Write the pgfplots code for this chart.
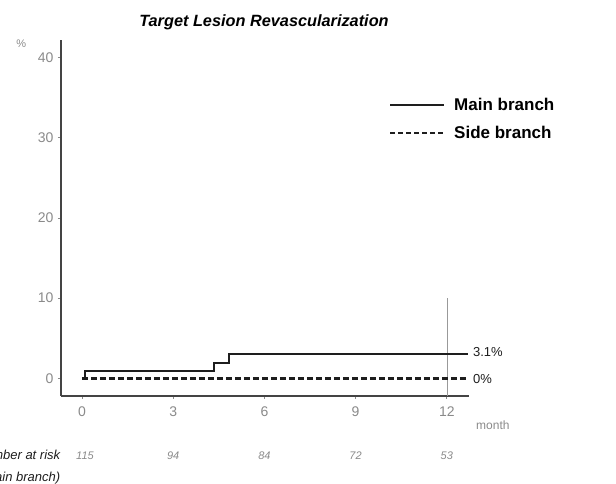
\documentclass[border=0pt]{standalone}
\usepackage{pgfplots}
\pgfplotsset{compat=1.18}
\usepackage{fontspec}
\setmainfont{Liberation Sans}
\definecolor{tickgray}{HTML}{8A8A8A}
\definecolor{axgray}{HTML}{444444}
\definecolor{linedark}{HTML}{1E1E1E}
\begin{document}
\begin{tikzpicture}[x=1pt,y=1pt]
\useasboundingbox (0,0) rectangle (616,484);
\clip (0,0) rectangle (616,484);
\begin{axis}[
  at={(61pt,88pt)}, anchor=south west,
  scale only axis, width=408pt, height=356pt,
  xmin=-0.69, xmax=12.73, ymin=-2.2, ymax=42.2,
  axis x line=bottom, axis y line=left,
  axis line style={-, axgray, line width=1.7pt},
  xtick={0,3,6,9,12}, ytick={0,10,20,30,40},
  tick align=outside, major tick length=3pt,
  tick style={tickgray, line width=0.8pt},
  ticklabel style={font=\fontsize{14}{14}\selectfont, text=tickgray},
  /pgf/number format/assume math mode=true,
  xticklabel style={yshift=-4pt},
  yticklabel style={xshift=-1pt},
  clip=false,
  title={\bfseries\itshape Target Lesion Revascularization},
  title style={font=\fontsize{16.3}{16.3}\selectfont, at={(0.5,1)}, anchor=south, yshift=1pt, xshift=-1pt},
  legend style={at={(axis cs:10.1,35.2)}, anchor=north west, draw=none, fill=none,
    font=\fontsize{17}{17}\selectfont\bfseries, row sep=10pt, inner sep=0pt,
    nodes={inner xsep=9pt}},
  legend cell align=left,
]
% thin vertical reference at 12 months
\addplot[forget plot, gray!80, line width=0.6pt] coordinates {(12,10) (12,-2.2)};
% Main branch
\addplot[const plot, linedark, line width=2pt,
  legend image code/.code={\draw[linedark, line width=2pt] (0pt,0pt) -- (54pt,0pt);}]
  coordinates {(0.1,0) (0.1,0.9) (4.35,1.95) (4.83,3.1) (12.7,3.1)};
\addlegendentry{Main branch}
% Side branch
\addplot[linedark, line width=2.8pt, dash pattern=on 6pt off 3pt,
  legend image code/.code={\draw[linedark, line width=1.4pt, dash pattern=on 5pt off 3pt] (0pt,0pt) -- (54pt,0pt);}]
  coordinates {(0,0) (12.7,0)};
\addlegendentry{Side branch}
% end labels
\node[anchor=west, font=\fontsize{13}{13}\selectfont, text=linedark] at (axis cs:12.75,3.3) {3.1\%};
\node[anchor=west, font=\fontsize{13}{13}\selectfont, text=linedark] at (axis cs:12.75,-0.1) {0\%};
\node[anchor=west, font=\fontsize{12}{12}\selectfont, text=tickgray] at (axis cs:12.85,-5.8) {month};
\node[font=\fontsize{11}{11}\selectfont, text=tickgray] at (axis cs:-2.0,41.7) {\%};
% number at risk
\node[anchor=east, font=\fontsize{13}{13}\selectfont\itshape, text=linedark] at (axis cs:-0.6,-9.6) {Number at risk};
\node[anchor=east, font=\fontsize{13}{13}\selectfont\itshape, text=linedark] at (axis cs:-0.6,-12.5) {(main branch)};
\node[font=\fontsize{11}{11}\selectfont\itshape, text=tickgray] at (axis cs:0.1,-9.6) {115};
\node[font=\fontsize{11}{11}\selectfont\itshape, text=tickgray] at (axis cs:3,-9.6) {94};
\node[font=\fontsize{11}{11}\selectfont\itshape, text=tickgray] at (axis cs:6,-9.6) {84};
\node[font=\fontsize{11}{11}\selectfont\itshape, text=tickgray] at (axis cs:9,-9.6) {72};
\node[font=\fontsize{11}{11}\selectfont\itshape, text=tickgray] at (axis cs:12,-9.6) {53};
\end{axis}
\end{tikzpicture}
\end{document}
